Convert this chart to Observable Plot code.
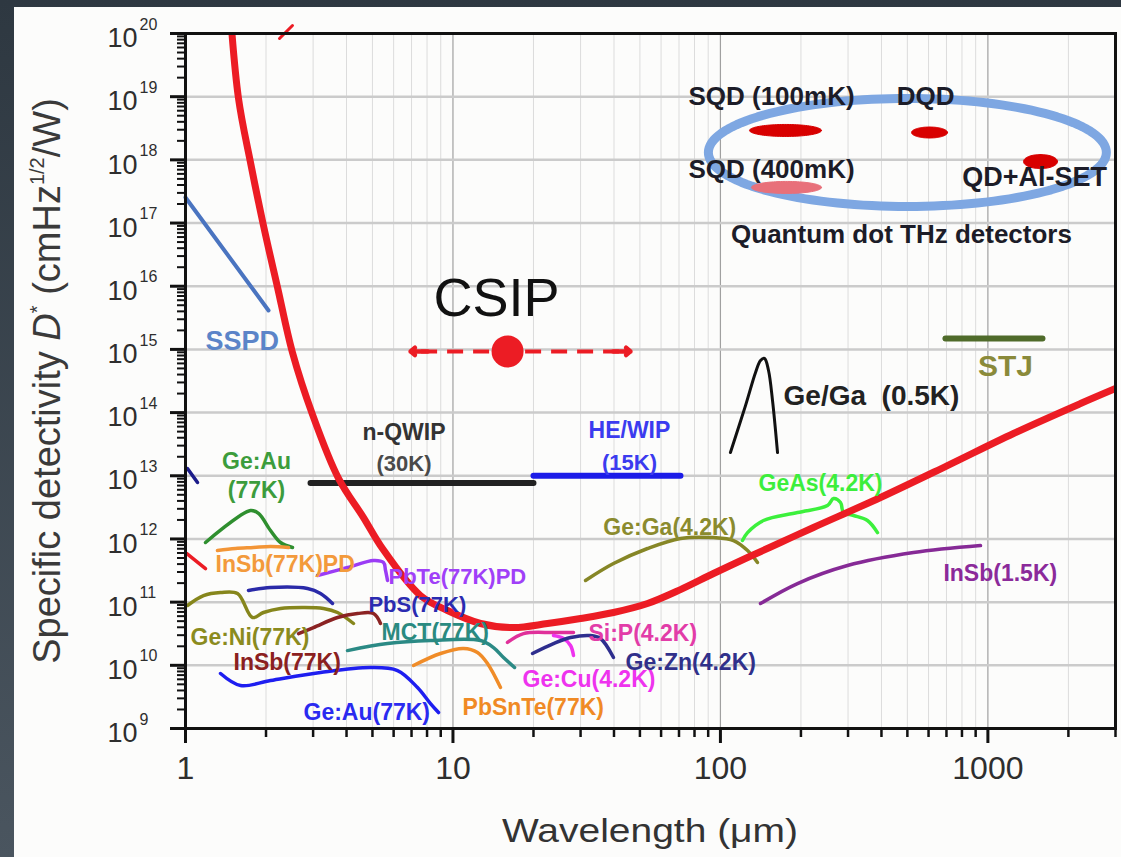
<!DOCTYPE html>
<html>
<head>
<meta charset="utf-8">
<script src="https://cdn.jsdelivr.net/npm/d3@7"></script>
<script src="https://cdn.jsdelivr.net/npm/@observablehq/plot@0.6"></script>
<style>
html,body{margin:0;padding:0;}
body{width:1121px;height:857px;position:relative;overflow:hidden;background:linear-gradient(#2e3841,#4a555f);font-family:"Liberation Sans",Arial,sans-serif;}
#panel{position:absolute;left:14px;top:7px;width:1107px;height:850px;background:#fcfcfb;}
#chart{position:absolute;left:0;top:0;}
</style>
</head>
<body>
<div id="panel"></div>
<div id="chart"></div>
<script>
// ---------- axis ticks ----------
const xTickValues = [1, 10, 100, 1000];
const xTickLabels = ["1", "10", "100", "1000"];
const yExponents = [9, 10, 11, 12, 13, 14, 15, 16, 17, 18, 19, 20];

// ---------- curves: [wavelength µm, D* cmHz^1/2/W] ----------
const blip = [[1.46,3.3e20],[1.578,9.4e18],[1.750,9.1e17],[1.957,9.1e16],[2.208,9.6e15],[2.512,8.9e14],[2.985,9.3e13],[3.733,9.1e12],[4.63,2.18e12],[5.45,7.06e11],[7.56,1.27e11],[9.54,7.37e10],[12.68,4.59e10],[16.84,3.96e10],[22.57,4.59e10],[29.99,5.51e10],[39.83,6.85e10],[53.4,9.51e10],[70.9,1.58e11],[94.2,2.84e11],[126.3,5.08e11],[167.8,8.79e11],[222.8,1.52e12],[396.8,4.53e12],[706,1.45e13],[1247,4.67e13],[2220,1.39e14],[3000,2.40e14]];
const blipStub = [[2.246,8.34e19],[2.512,1.34e20]];
const sspd = [[1.0,2.54e17],[2.044,4.13e15]];
const navyStub = [[1.017,1.30e13],[1.109,7.82e12]];
const redStub = [[1.009,5.89e11],[1.188,3.40e11]];
const nQwip = [[2.934,7.7e12],[20.0,7.7e12]];
const heWip = [[20.0,1.0e13],[70.9,1.0e13]];
const stj = [[694,1.49e15],[1600,1.49e15]];
const geGa05 = [[109,2.33e13],[124.1,1.29e14],[135.3,4.31e14],[141.2,6.67e14],[146.2,7.18e14],[151.3,4.64e14],[156.6,1.55e14],[163.5,2.33e13]];
const geAu77Green = [[1.188,8.79e11],[1.750,2.82e12],[1.875,2.53e12],[2.079,1.36e12],[2.266,8.79e11],[2.512,7.32e11]];
const inSb77PD = [[1.317,6.57e11],[1.538,7.06e11],[1.796,7.32e11],[2.079,7.60e11],[2.428,7.32e11]];
const pbTe77PD = [[3.115,2.64e11],[4.034,3.53e11],[5.047,4.56e11],[5.50,4.24e11],[5.595,3.17e11],[5.693,2.20e11]];
const pbS77 = [[1.720,1.53e11],[2.079,1.70e11],[2.859,1.64e11],[3.197,1.37e11],[3.545,9.51e10]];
const geNi77 = [[1.017,8.85e10],[1.168,1.27e11],[1.352,1.42e11],[1.565,1.37e11],[1.780,5.71e10],[1.957,6.85e10],[2.266,7.93e10],[2.762,8.22e10],[3.28,7.93e10],[3.701,6.85e10],[4.248,4.59e10]];
const inSb77 = [[2.646,3.18e10],[3.010,3.96e10],[3.701,5.71e10],[4.397,6.60e10],[5.047,6.60e10],[5.36,4.59e10]];
const mct77 = [[4.034,1.71e10],[5.693,2.21e10],[8.241,2.47e10],[12.68,2.47e10],[14.18,1.91e10],[15.45,1.33e10],[16.99,9.23e9]];
const geAu77Blue = [[1.352,7.42e9],[1.606,4.79e9],[2.079,5.74e9],[3.197,7.69e9],[4.918,9.23e9],[6.204,8.27e9],[7.369,4.45e9],[8.241,2.48e9],[8.831,1.79e9]];
const pbSnTe77 = [[7.119,9.93e9],[8.983,1.54e10],[10.95,1.85e10],[12.35,1.60e10],[13.46,1.07e10],[15.06,4.45e9]];
const siP42 = [[15.99,2.30e10],[18.35,3.18e10],[23.76,3.30e10],[28.23,3.30e10]];
const geCu42 = [[23.76,2.96e10],[25.9,2.66e10],[27.51,2.06e10],[28.23,1.43e10]];
const geZn42 = [[19.83,1.54e10],[23.76,2.21e10],[27.51,2.75e10],[32.67,2.96e10],[35.61,2.66e10],[39.83,1.33e10]];
const geGa42 = [[31.3,2.20e11],[39.83,4.08e11],[53.39,7.06e11],[70.92,1.02e12],[94.2,1.05e12],[111.9,9.45e11],[126.3,6.57e11],[137.6,4.24e11]];
const geAs42 = [[120.9,9.45e11],[126.3,1.26e12],[144.9,1.96e12],[194.2,2.62e12],[251.4,3.38e12],[264.8,4.37e12],[281.2,3.78e12],[288.5,2.62e12],[314.6,2.35e12],[354.6,1.96e12],[386.6,1.26e12]];
const inSb15 = [[141.2,9.51e10],[194.2,1.97e11],[298.6,3.80e11],[527.2,6.10e11],[938.5,7.87e11]];

// ---------- CSIP ----------
const csipWave = 16.0;
const csipDet = 9.3e14;
const csipRange = [6.94, 46.1];

// ---------- quantum-dot detectors (centre, half-extent in decades) ----------
const qdRingCentre = [500, 1.31e18];
const qdRingHalf = [0.744, 0.855];
const qdWave = [175.1, 605, 1573, 176.6];
const qdDet = [2.92e18, 2.71e18, 9.4e17, 3.66e17];
const qdHalfW = [0.1346, 0.0673, 0.0636, 0.131];
const qdHalfH = [0.095, 0.087, 0.111, 0.095];

// ---------- labels ----------
const labelText = ["SSPD","CSIP","n-QWIP","(30K)","HE/WIP","(15K)","Ge/Ga\u00A0 (0.5K)","STJ",
  "SQD (100mK)","DQD","SQD (400mK)","QD+Al-SET","Quantum dot THz detectors",
  "Ge:Au","(77K)","InSb(77K)PD","PbTe(77K)PD","PbS(77K)","Ge:Ni(77K)","InSb(77K)","Ge:Au(77K)",
  "MCT(77K)","PbSnTe(77K)","Si:P(4.2K)","Ge:Cu(4.2K)","Ge:Zn(4.2K)","Ge:Ga(4.2K)","GeAs(4.2K)","InSb(1.5K)"];
const labelWave = [1.188,14.55,6.56,6.56,45.7,45.7,172.2,1164,
  155.2,584.7,155.2,1494,475.3,
  1.843,1.843,1.295,5.74,4.83,1.044,1.512,2.762,
  5.41,10.86,32.1,18.2,44.2,36.5,138.8,682];
const labelDet = [1.33e15,6.4e15,4.84e13,1.56e13,5.2e13,1.62e13,1.86e14,5.36e14,
  1.0e19,1.0e19,7.03e17,5.26e17,6.59e16,
  1.68e13,5.85e12,3.94e11,2.54e11,9.17e10,2.75e10,1.11e10,1.79e9,
  3.30e10,2.15e9,3.18e10,5.96e9,1.11e10,1.52e12,7.55e12,2.84e11];

// ================= rendering =================
const RED = "#ec1c24";
const pts = a => a.map(([x, y]) => ({x, y}));
function ellipse(cx, cy, hw, hh, n = 90) {
  const out = [];
  for (let i = 0; i <= n; i++) {
    const t = 2 * Math.PI * i / n;
    out.push({x: 10 ** (Math.log10(cx) + hw * Math.cos(t)), y: 10 ** (Math.log10(cy) + hh * Math.sin(t))});
  }
  return out;
}
const yTicks = yExponents.map(e => 10 ** e);
const yMinor = [];
for (let e = 9; e < 20; e++) for (let m = 2; m <= 9; m++) yMinor.push(m * 10 ** e);
const xMinor = [];
for (let e = 0; e <= 3; e++) for (let m = 2; m <= 9; m++) if (m * 10 ** e <= 3000) xMinor.push(m * 10 ** e);

const curveStyles = [
  [geAu77Green, "#2f8f2f"], [inSb77PD, "#f39536"], [pbTe77PD, "#9b3cf5"], [pbS77, "#2a2aa8"],
  [geNi77, "#86861c"], [inSb77, "#8b2323"], [mct77, "#2b8a85"], [geAu77Blue, "#1e1ef0"],
  [pbSnTe77, "#f08c28"], [siP42, "#e0309a"], [geCu42, "#ee33ee"], [geZn42, "#2e2e8e"],
  [geGa42, "#868626"], [geAs42, "#3cf03c"], [inSb15, "#862a96"]
];

const labelStyle = [
  ["#5b84c8",27,"bold","start"],["#111",54,"normal","middle"],["#333",23,"bold","middle"],["#4a4a4a",22,"bold","middle"],
  ["#3b3bef",23,"bold","middle"],["#3b3bef",22,"bold","middle"],["#222",28,"bold","start"],["#8a8a3a",30,"bold","middle"],
  ["#1c1c28",26,"bold","middle"],["#1c1c28",26,"bold","middle"],["#1c1c28",26,"bold","middle"],["#1c1c28",27,"bold","middle"],["#1c1c28",26,"bold","middle"],
  ["#3c9c3c",23,"bold","middle"],["#3c9c3c",23,"bold","middle"],["#f39a3b",23,"bold","start"],["#a040f8",22,"bold","start"],
  ["#2b2bb0",22,"bold","start"],["#8b8b1e",23,"bold","start"],["#8b2020",23,"bold","start"],["#2a2af0",23,"bold","start"],
  ["#2a8a80",23,"bold","start"],["#f08a24",23,"bold","start"],["#e23ca8",23,"bold","start"],["#ee33ee",23,"bold","start"],
  ["#30308a",23,"bold","start"],["#8b8b2e",23,"bold","start"],["#3cee3c",23,"bold","start"],["#8b2a9a",23,"bold","start"]
];

const marks = [
  Plot.ruleX(xMinor, {stroke: "#dcdcdc", strokeWidth: 1}),
  Plot.ruleX([10, 100, 1000], {stroke: "#a0a0a0", strokeWidth: 1.2}),
  Plot.ruleY(yTicks, {stroke: "#cbcbcb", strokeWidth: 2.5}),
  Plot.line(ellipse(qdRingCentre[0], qdRingCentre[1], qdRingHalf[0], qdRingHalf[1], 140), {x: "x", y: "y", stroke: "#7ea7e2", strokeWidth: 9})
];
qdWave.forEach((w, i) => {
  const c = i === 3 ? "#e8707a" : "#d80000";
  marks.push(Plot.line(ellipse(w, qdDet[i], qdHalfW[i], qdHalfH[i]), {x: "x", y: "y", fill: c, stroke: c, strokeWidth: 1}));
});
for (const [data, color] of curveStyles) {
  marks.push(Plot.line(pts(data), {x: "x", y: "y", stroke: color, strokeWidth: 3.5, curve: "catmull-rom", strokeLinecap: "round"}));
}
marks.push(
  Plot.line(pts(nQwip), {x: "x", y: "y", stroke: "#222", strokeWidth: 6}),
  Plot.line(pts(heWip), {x: "x", y: "y", stroke: "#1c1ce8", strokeWidth: 6}),
  Plot.line(pts(stj), {x: "x", y: "y", stroke: "#4f6b2a", strokeWidth: 6}),
  Plot.line(pts(geGa05), {x: "x", y: "y", stroke: "#111", strokeWidth: 3, curve: "catmull-rom"}),
  Plot.line(pts(sspd), {x: "x", y: "y", stroke: "#4a74c0", strokeWidth: 4}),
  Plot.line(pts(navyStub), {x: "x", y: "y", stroke: "#1c1c8a", strokeWidth: 3.5}),
  Plot.line(pts(redStub), {x: "x", y: "y", stroke: RED, strokeWidth: 3.5}),
  Plot.line(pts(blip), {x: "x", y: "y", stroke: RED, strokeWidth: 7, curve: "catmull-rom", clip: true}),
  Plot.line(pts(blipStub), {x: "x", y: "y", stroke: RED, strokeWidth: 3}),
  Plot.ruleY([csipDet], {x1: csipRange[0] * 1.1, x2: csipRange[1] / 1.1, stroke: RED, strokeWidth: 4, strokeDasharray: "16,10"}),
  Plot.arrow([0], {x1: csipRange[0] * 1.16, y1: csipDet, x2: csipRange[0], y2: csipDet, stroke: RED, strokeWidth: 4.5, headLength: 16, headAngle: 80}),
  Plot.arrow([0], {x1: csipRange[1] / 1.16, y1: csipDet, x2: csipRange[1], y2: csipDet, stroke: RED, strokeWidth: 4.5, headLength: 16, headAngle: 80}),
  Plot.dot([[csipWave, csipDet]], {x: d => d[0], y: d => d[1], r: 16, fill: RED})
);
labelText.forEach((t, i) => {
  const [fill, fontSize, fontWeight, textAnchor] = labelStyle[i];
  marks.push(Plot.text([i], {x: () => labelWave[i], y: () => labelDet[i], text: () => t, fill, fontSize, fontWeight, textAnchor, lineAnchor: "middle"}));
});
marks.push(
  Plot.frame({stroke: "#111", strokeWidth: 3}),
  Plot.axisY(yMinor, {anchor: "left", tickSize: 8, tickFormat: () => "", label: null, stroke: "#111", strokeWidth: 2}),
  Plot.axisY(yTicks, {anchor: "left", tickSize: 15, tickFormat: () => "", label: null, stroke: "#111", strokeWidth: 3}),
  Plot.axisX(xMinor, {anchor: "bottom", tickSize: 9, tickFormat: () => "", label: null, stroke: "#111", strokeWidth: 2.5}),
  Plot.axisX(xTickValues, {anchor: "bottom", tickSize: 15, tickFormat: () => "", label: null, stroke: "#111", strokeWidth: 3}),
  Plot.text(yExponents, {frameAnchor: "left", y: e => 10 ** e, text: () => "10", dx: -48, dy: 5, textAnchor: "end", lineAnchor: "middle", fontSize: 27, fill: "#2e2e2e"}),
  Plot.text(yExponents, {frameAnchor: "left", y: e => 10 ** e, text: e => String(e), dx: -46, dy: -9, textAnchor: "start", lineAnchor: "middle", fontSize: 16, fill: "#2e2e2e"}),
  Plot.text(xTickValues, {frameAnchor: "bottom", x: d => d, text: (d, i) => xTickLabels[i], dy: 40, lineAnchor: "middle", fontSize: 32, fill: "#2e2e2e"})
);

const chart = Plot.plot({
  width: 1121, height: 857,
  marginLeft: 185, marginRight: 6, marginTop: 33, marginBottom: 129,
  style: {background: "transparent", fontFamily: "'Liberation Sans', Arial, sans-serif", overflow: "visible"},
  x: {type: "log", domain: [1, 3000]},
  y: {type: "log", domain: [1e9, 1e20]},
  marks
});
document.getElementById("chart").appendChild(chart);

// axis titles
const svg = d3.select(chart);
const yt = svg.append("text")
  .attr("transform", "translate(60,381) rotate(-90)")
  .attr("text-anchor", "middle").attr("font-size", 38).attr("fill", "#3a3a3a")
  .attr("font-family", "'Liberation Sans', Arial, sans-serif");
yt.append("tspan").text("Specific detectivity ");
yt.append("tspan").attr("font-style", "italic").text("D");
yt.append("tspan").attr("font-size", 20).attr("dy", -16).text("*");
yt.append("tspan").attr("dy", 16).text(" (cmHz");
yt.append("tspan").attr("font-size", 20).attr("dy", -16).text("1/2");
yt.append("tspan").attr("dy", 16).text("/W)");
svg.append("text")
  .attr("x", 650).attr("y", 842).attr("text-anchor", "middle")
  .attr("font-size", 33).attr("fill", "#333")
  .attr("textLength", 296).attr("lengthAdjust", "spacingAndGlyphs")
  .attr("font-family", "'Liberation Sans', Arial, sans-serif")
  .text("Wavelength (\u03BCm)");
</script>
</body>
</html>
